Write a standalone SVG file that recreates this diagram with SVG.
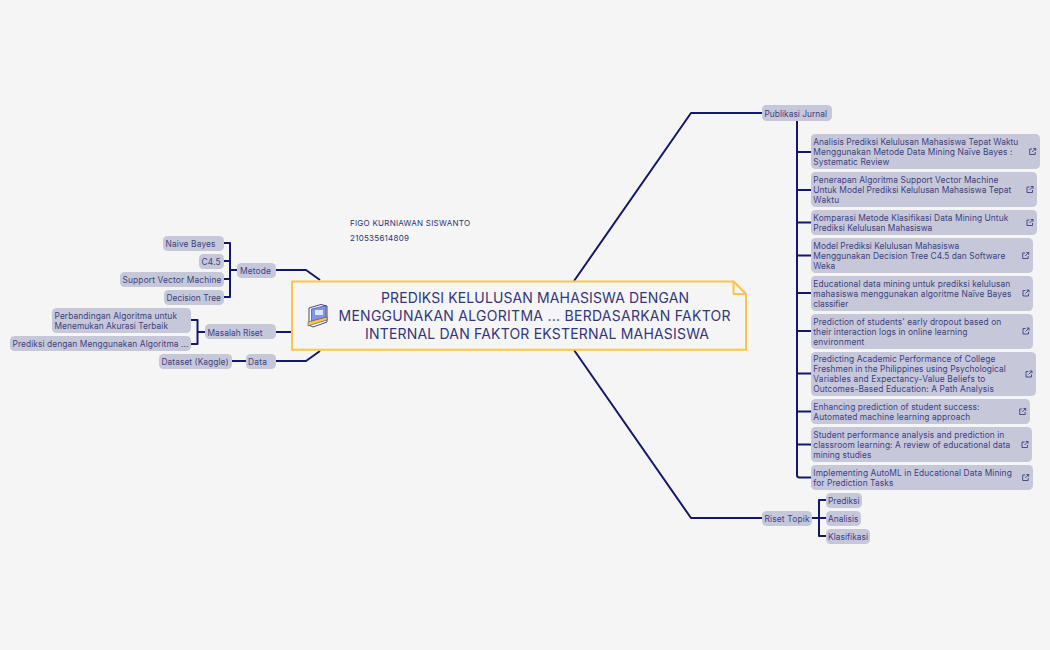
<svg xmlns="http://www.w3.org/2000/svg" width="1050" height="650" viewBox="0 0 1050 650">
<style>
text{font-family:"Inter","Liberation Sans",sans-serif;fill:#3d3f82}
.t{font-size:8.4px}
.a{font-size:8px;fill:#2f3275}
.m{font-size:14px;fill:#33367a}
.b{fill:#c6c8da}
.c{fill:none;stroke:#14186a;stroke-width:2;stroke-linejoin:round}
.i{fill:none;stroke:#3d3f82;stroke-width:.9}
</style>
<defs>
<g id="ext"><path class="i" d="M-.5-2.500H-3V3H2.500V.5M-.5.5L3-3M.7-3H3V-.7"/></g>
</defs>
<rect width="1050" height="650" fill="#f5f5f5"/>
<g id="connectors">
<path class="c" d="M574 281L691 113H762"/>
<path class="c" d="M574 350L691 518H762"/>
<path class="c" d="M276 270H306L320 280"/>
<path class="c" d="M276 361H306L320 351"/>
<path class="c" d="M276 332H292"/>
<path class="c" d="M224 243H230V297H224M224 261H230M224 279H230M230 270H237"/>
<path class="c" d="M191 320H197.500V344H191M197.500 332H205"/>
<path class="c" d="M232 361H246"/>
<path class="c" d="M797 121V475Q797 477.500 799.500 477.500H811M797 152H811M797 190H811M797 222.500H811M797 255.500H811M797 293H811M797 331H811M797 373.500H811M797 411.500H811M797 444.500H811"/>
<path class="c" d="M812 518H826M819 518V500H826M819 518V536H826"/>
</g>
<g id="center">
<path d="M292 281.500H733.500L746 294V349.700H292Z" fill="#f5f5f5" stroke="#fdc645" stroke-width="2"/>
<path d="M733.500 281.500V294H746Z" fill="#f5f5f5" stroke="#fdc645" stroke-width="2" stroke-linejoin="round"/>
<g id="book">
<path d="M309 308L321 304.500L327 306V322L313 327L309 325Z" fill="#fff" stroke="#2f3275" stroke-width=".9"/>
<path d="M311.500 309L326 305.500V320L311.500 324Z" fill="#7f96e6" stroke="#2f3275" stroke-width=".6"/>
<rect x="315" y="310" width="8" height="5" fill="#dfe4f7"/>
<path d="M308 322L327 317V320L308 326Z" fill="#fdc645" stroke="#2f3275" stroke-width=".5"/>
</g>
<text class="m" x="381" y="303" textLength="308">PREDIKSI KELULUSAN MAHASISWA DENGAN</text>
<text class="m" x="338.500" y="321" textLength="392">MENGGUNAKAN ALGORITMA ... BERDASARKAN FAKTOR</text>
<text class="m" x="365" y="339" textLength="344">INTERNAL DAN FAKTOR EKSTERNAL MAHASISWA</text>
</g>
<g id="author">
<text class="a" x="350" y="226" textLength="120">FIGO KURNIAWAN SISWANTO</text>
<text class="a" x="350" y="241" textLength="59">210535614809</text>
</g>
<g id="n-metode"><rect class="b" x="237" y="263" width="39" height="15" rx="4.500"/><text class="t" x="240" y="273.500" textLength="31">Metode</text></g>
<g id="n-naive"><rect class="b" x="163" y="236" width="61" height="15" rx="4.500"/><text class="t" x="165.500" y="246.500" textLength="50">Naive Bayes</text></g>
<g id="n-c45"><rect class="b" x="199" y="254" width="25" height="15" rx="4.500"/><text class="t" x="201.500" y="264.500" textLength="19">C4.5</text></g>
<g id="n-svm"><rect class="b" x="120" y="272" width="104" height="15" rx="4.500"/><text class="t" x="122.500" y="282.500" textLength="99">Support Vector Machine</text></g>
<g id="n-dt"><rect class="b" x="164" y="290" width="60" height="15" rx="4.500"/><text class="t" x="166.500" y="300.500" textLength="54.500">Decision Tree</text></g>
<g id="n-masalah"><rect class="b" x="205" y="324" width="71" height="15" rx="4.500"/><text class="t" x="207.500" y="335.500" textLength="55">Masalah Riset</text></g>
<g id="n-perb"><rect class="b" x="52" y="308" width="139" height="25" rx="4.500"/><text class="t" x="54.500" y="318.500" textLength="122.500">Perbandingan Algoritma untuk</text><text class="t" x="54.500" y="328.500" textLength="113.500">Menemukan Akurasi Terbaik</text></g>
<g id="n-pred"><rect class="b" x="10" y="336" width="181" height="15" rx="4.500"/><text class="t" x="12.500" y="346.500" textLength="176">Prediksi dengan Menggunakan Algoritma ...</text></g>
<g id="n-dataset"><rect class="b" x="159" y="354" width="73" height="15" rx="4.500"/><text class="t" x="161.500" y="364.500" textLength="67">Dataset (Kaggle)</text></g>
<g id="n-data"><rect class="b" x="246" y="354" width="30" height="15" rx="4.500"/><text class="t" x="248" y="364.500" textLength="19">Data</text></g>
<g id="n-pub"><rect class="b" x="762" y="105" width="70" height="16" rx="4.500"/><text class="t" x="764.500" y="116.500" textLength="62.500">Publikasi Jurnal</text></g>
<g id="n-j1"><rect class="b" x="811" y="134" width="229" height="35" rx="4.500"/><text class="t" x="813.300" y="145" textLength="205">Analisis Prediksi Kelulusan Mahasiswa Tepat Waktu</text><text class="t" x="813.300" y="155" textLength="199">Menggunakan Metode Data Mining Naïve Bayes :</text><text class="t" x="813.300" y="165" textLength="76">Systematic Review</text><use href="#ext" x="1032.700" y="151.500"/></g>
<g id="n-j2"><rect class="b" x="811" y="172" width="226" height="35" rx="4.500"/><text class="t" x="813.300" y="183" textLength="185">Penerapan Algoritma Support Vector Machine</text><text class="t" x="813.300" y="193" textLength="198">Untuk Model Prediksi Kelulusan Mahasiswa Tepat</text><text class="t" x="813.300" y="203" textLength="26">Waktu</text><use href="#ext" x="1030" y="189.500"/></g>
<g id="n-j3"><rect class="b" x="811" y="210" width="226" height="25" rx="4.500"/><text class="t" x="813.300" y="221" textLength="195">Komparasi Metode Klasifikasi Data Mining Untuk</text><text class="t" x="813.300" y="231" textLength="119">Prediksi Kelulusan Mahasiswa</text><use href="#ext" x="1030" y="222.500"/></g>
<g id="n-j4"><rect class="b" x="811" y="238" width="222" height="35" rx="4.500"/><text class="t" x="813.300" y="249" textLength="146">Model Prediksi Kelulusan Mahasiswa</text><text class="t" x="813.300" y="259" textLength="192">Menggunakan Decision Tree C4.5 dan Software</text><text class="t" x="813.300" y="269" textLength="22">Weka</text><use href="#ext" x="1025.700" y="255.500"/></g>
<g id="n-j5"><rect class="b" x="811" y="276" width="222" height="35" rx="4.500"/><text class="t" x="813.300" y="287" textLength="197">Educational data mining untuk prediksi kelulusan</text><text class="t" x="813.300" y="297" textLength="198">mahasiswa menggunakan algoritme Naïve Bayes</text><text class="t" x="813.300" y="307" textLength="35">classifier</text><use href="#ext" x="1026" y="293"/></g>
<g id="n-j6"><rect class="b" x="811" y="314" width="222" height="35" rx="4.500"/><text class="t" x="813.300" y="325" textLength="188">Prediction of students' early dropout based on</text><text class="t" x="813.300" y="335" textLength="154">their interaction logs in online learning</text><text class="t" x="813.300" y="345" textLength="51">environment</text><use href="#ext" x="1026" y="331"/></g>
<g id="n-j7"><rect class="b" x="811" y="352" width="225" height="44" rx="4.500"/><text class="t" x="813.300" y="362" textLength="182">Predicting Academic Performance of College</text><text class="t" x="813.300" y="372" textLength="192.500">Freshmen in the Philippines using Psychological</text><text class="t" x="813.300" y="382" textLength="172">Variables and Expectancy-Value Beliefs to</text><text class="t" x="813.300" y="392" textLength="180.500">Outcomes-Based Education: A Path Analysis</text><use href="#ext" x="1029" y="374"/></g>
<g id="n-j8"><rect class="b" x="811" y="399" width="219" height="25" rx="4.500"/><text class="t" x="813.300" y="410" textLength="166">Enhancing prediction of student success:</text><text class="t" x="813.300" y="420" textLength="157">Automated machine learning approach</text><use href="#ext" x="1022.700" y="411.500"/></g>
<g id="n-j9"><rect class="b" x="811" y="427" width="221" height="35" rx="4.500"/><text class="t" x="813.300" y="438" textLength="191">Student performance analysis and prediction in</text><text class="t" x="813.300" y="448" textLength="197">classroom learning: A review of educational data</text><text class="t" x="813.300" y="458" textLength="58">mining studies</text><use href="#ext" x="1025" y="444.500"/></g>
<g id="n-j10"><rect class="b" x="811" y="465" width="222" height="25" rx="4.500"/><text class="t" x="813.300" y="476" textLength="198.500">Implementing AutoML in Educational Data Mining</text><text class="t" x="813.300" y="486" textLength="80">for Prediction Tasks</text><use href="#ext" x="1025.700" y="477.500"/></g>
<g id="n-riset"><rect class="b" x="762" y="511" width="50" height="15" rx="4.500"/><text class="t" x="764.500" y="522" textLength="45">Riset Topik</text></g>
<g id="n-prediksi"><rect class="b" x="826" y="493" width="36" height="15" rx="4.500"/><text class="t" x="828" y="504" textLength="31.500">Prediksi</text></g>
<g id="n-analisis"><rect class="b" x="826" y="511" width="35" height="15" rx="4.500"/><text class="t" x="828" y="522" textLength="30.500">Analisis</text></g>
<g id="n-klas"><rect class="b" x="826" y="529" width="44" height="15" rx="4.500"/><text class="t" x="828" y="540" textLength="40">Klasifikasi</text></g>
</svg>
